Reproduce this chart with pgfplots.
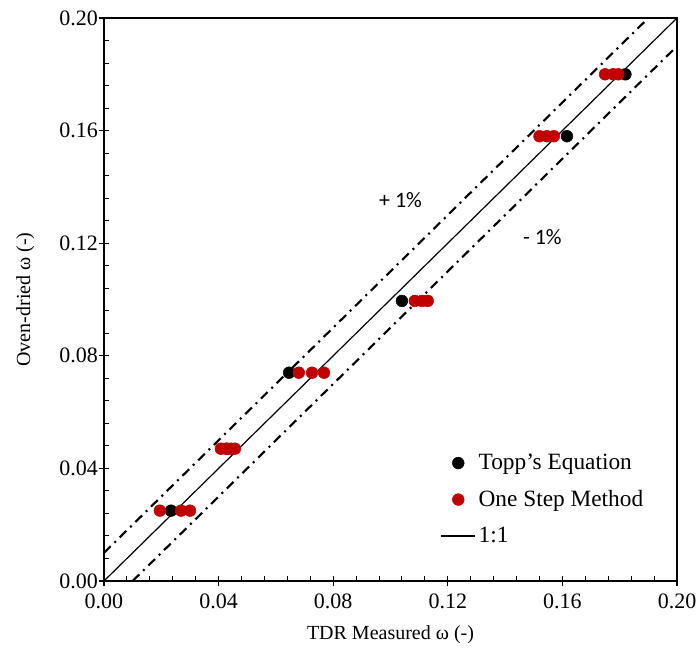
\documentclass[border=0pt]{standalone}
\usepackage{fontspec}
\setmainfont{Liberation Serif}
\newfontfamily\calib{Carlito}
\usepackage{pgfplots}
\pgfplotsset{compat=1.18}
\definecolor{dred}{RGB}{192,0,0}
\begin{document}
\begin{tikzpicture}
\begin{axis}[
  scale only axis,
  width=429.75pt, height=422.25pt,
  xmin=0, xmax=0.2, ymin=0, ymax=0.2,
  xtick={0,0.04,...,0.2001}, ytick={0,0.04,...,0.2001},
  minor tick num=4,
  axis line style={line width=0.9pt},
  tick style={black, line width=0.8pt},
  major tick length=4pt, minor tick length=4pt,
  tick align=inside,
  extra x ticks={0,0.04,...,0.2001}, extra y ticks={0,0.04,...,0.2001},
  extra x tick labels={}, extra y tick labels={},
  extra tick style={tick align=outside, major tick length=4pt},
  xtick pos=bottom, ytick pos=left,
  /pgf/number format/assume math mode=true,
  /pgf/number format/.cd, fixed, fixed zerofill, precision=2, /pgfplots/.cd,
  ticklabel style={font=\fontsize{16.5}{18}\selectfont},
  xticklabel style={yshift=-6pt},
  yticklabel style={xshift=-1pt},
  label style={font=\fontsize{15}{17}\selectfont},
  xlabel={TDR Measured ω (-)},
  ylabel={Oven-dried ω (-)},
  xlabel style={yshift=-2pt},
  ylabel style={yshift=8pt},
  legend style={draw=none, fill=none, at={(0.58,0.235)}, anchor=north west,
    font=\fontsize{17.5}{19}\selectfont, row sep=10pt, cells={anchor=west}},
  legend image code/.code={\draw[mark repeat=2,mark phase=2,#1] plot coordinates {(0cm,0cm) (0.45cm,0cm) (0.9cm,0cm)};},
]
\addplot[only marks, mark=*, mark size=4.4pt, black] coordinates {
  (0.0234,0.025) (0.043,0.047) (0.0646,0.074) (0.104,0.0995) (0.1616,0.158) (0.182,0.18)
};
\addlegendentry{Topp's Equation}
\addplot[only marks, mark=*, mark size=4.4pt, dred, draw=dred] coordinates {
  (0.0195,0.025) (0.0269,0.025) (0.030,0.025)
  (0.0408,0.047) (0.0426,0.047) (0.0443,0.047) (0.0457,0.047)
  (0.068,0.074) (0.0726,0.074) (0.0768,0.074)
  (0.1085,0.0995) (0.111,0.0995) (0.113,0.0995)
  (0.152,0.158) (0.1546,0.158) (0.157,0.158)
  (0.1749,0.18) (0.1777,0.18) (0.1795,0.18)
};
\addlegendentry{One Step Method}
\addplot[black, line width=0.9pt, no marks] coordinates {(0,0) (0.2,0.2)};
\addlegendentry{1:1}
\addplot[black, line width=1.6pt, no marks, dash pattern=on 7pt off 4pt on 1.5pt off 4pt, forget plot] coordinates {(0,0.01) (0.19,0.2)};
\addplot[black, line width=1.6pt, no marks, dash pattern=on 7pt off 4pt on 1.5pt off 4pt, forget plot] coordinates {(0.01,0) (0.2,0.19)};
\node[font=\calib\fontsize{16.5}{18}\selectfont] at (axis cs:0.1035,0.1353) {+ 1\%};
\node[font=\calib\fontsize{16.5}{18}\selectfont] at (axis cs:0.153,0.1222) {- 1\%};
\end{axis}
\pgfresetboundingbox
\path[use as bounding box] (-78pt,-57.75pt) rectangle (444pt,435.75pt);
\end{tikzpicture}
\end{document}
